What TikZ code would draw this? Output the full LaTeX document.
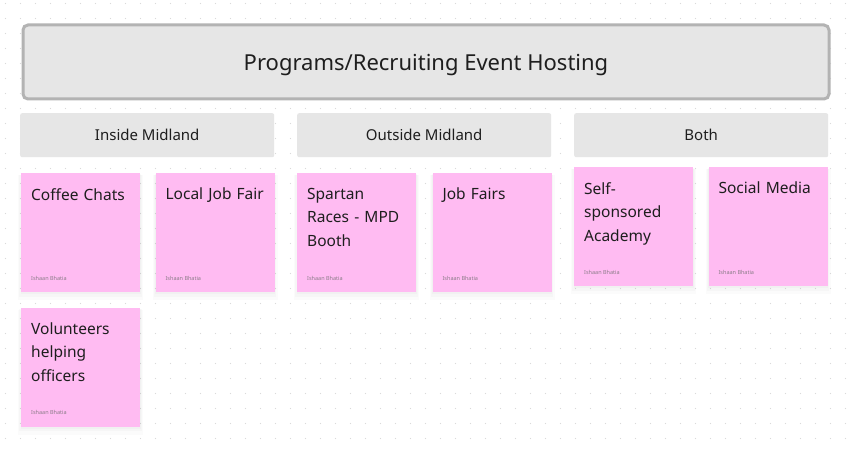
\documentclass[tikz,border=0pt]{standalone}
\usepackage{fontspec}
\setmainfont{Noto Sans}
\usetikzlibrary{positioning,shadows}
\definecolor{boxgray}{HTML}{E6E6E6}
\definecolor{framegray}{HTML}{B3B3B3}
\definecolor{stickypink}{HTML}{FFBBF2}
\definecolor{ink}{HTML}{1E1E1E}
\definecolor{authorgray}{HTML}{8C7D89}
\definecolor{griddot}{HTML}{DADADA}
\begin{document}
\begin{tikzpicture}[x=1pt,y=-1pt,
		titlebox/.style={draw=framegray,line width=3pt,fill=boxgray,rounded corners=5pt,anchor=north west,minimum width=806pt,minimum height=74pt,text depth=0pt,font=\fontsize{22}{26}\selectfont,text=ink},
		headbox/.style={fill=boxgray,rounded corners=2pt,anchor=north west,minimum width=254pt,minimum height=44pt,text depth=0pt,font=\fontsize{15}{18}\selectfont,text=ink},
		sticky/.style={fill=stickypink,minimum width=119pt,minimum height=119pt,inner sep=0pt,
			drop shadow={opacity=0.04,shadow xshift=0pt,shadow yshift=-1.5pt,shadow scale=1.01},
			drop shadow={opacity=0.04,shadow xshift=0pt,shadow yshift=-3pt,shadow scale=1.03},
			drop shadow={opacity=0.03,shadow xshift=0pt,shadow yshift=-5pt,shadow scale=1.05}},
		stickytext/.style={anchor=north west,inner sep=0pt,align=left,text width=105pt,font=\fontsize{15.5}{23.5}\selectfont,text=ink},
		author/.style={anchor=base west,inner sep=0pt,font=\fontsize{5.5}{6}\selectfont,text=authorgray},
		node distance=15pt and 15pt]
		\useasboundingbox[fill=white] (0,0) rectangle (853,449);
		\foreach \i in {0,...,56}
			\foreach \j in {0,...,29}
				\fill[griddot] (5.5+15*\i,3.5+15*\j) circle (0.6);
		\node[titlebox] (title) at (21.5,23.5) {Programs/Recruiting Event Hosting};
		\node[headbox] (inside) at (20,113) {Inside Midland};
		\node[headbox] (outside) at (297,113) {Outside Midland};
		\node[headbox] (both) at (574,113) {Both};
		\node[sticky,anchor=north west] (coffee) at (21,173) {};
		\node[sticky,right=of coffee] (localfair) {};
		\node[sticky,below=of coffee] (volunteers) {};
		\node[sticky,anchor=north west] (spartan) at (297,173) {};
		\node[sticky,right=16pt of spartan] (jobfairs) {};
		\node[sticky,anchor=north west] (selfsp) at (574,167) {};
		\node[sticky,right=of selfsp] (social) {};
		\foreach \n/\t in {coffee/Coffee Chats,localfair/Local Job Fair,volunteers/{Volunteers\\helping\\officers},spartan/{Spartan\\Races - MPD\\Booth},jobfairs/Job Fairs,selfsp/{Self-\\sponsored\\Academy},social/Social Media}{
			\node[stickytext] (\n-text) at ([shift={(10,15)}]\n.north west) {\t};
			\node[author] (\n-author) at ([shift={(10,-12)}]\n.south west) {Ishaan Bhatia};
		}
	\end{tikzpicture}
\end{document}
